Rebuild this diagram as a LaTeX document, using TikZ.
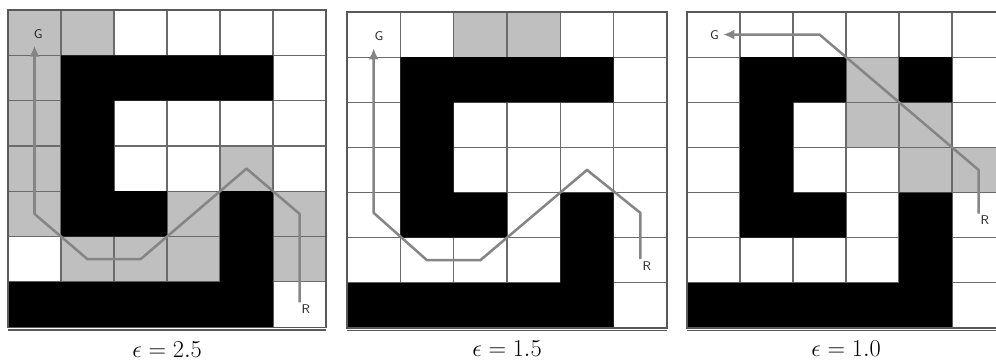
\documentclass[tikz,border=0pt]{standalone}
\usepackage{amsmath}
\usetikzlibrary{arrows.meta}

\begin{document}
\begin{tikzpicture}[
  x=0.025cm, y=-0.025cm,
  cell/.style={fill=black!25},
  wall/.style={fill=black},
  gridln/.style={draw=black!58, line width=0.85pt},
  frame/.style={draw=black!65, line width=0.9pt},
  route/.style={draw=black!48, line width=1.8pt, line join=round,
                -{Latex[length=8pt, width=7pt]}},
  lbl/.style={font=\sffamily\small, inner sep=0pt, text=black!85},
  captxt/.style={font=\fontsize{16}{19}\selectfont}
]
\useasboundingbox (0,0) rectangle (996,361);
\clip (0,0) rectangle (996,361);

\begin{scope}[shift={(8,10)}, x=1.325cm, y=-1.1325cm]
  \foreach \c/\r in {0/0,1/0,0/1,0/2,0/3,4/3,0/4,3/4,5/4,1/5,2/5,3/5,5/5}
    \fill[cell] (\c,\r) rectangle ++(1,1);
  \foreach \i in {1,...,5} \draw[gridln] (\i,0) -- (\i,7);
  \foreach \j in {1,...,6} \draw[gridln] (0,\j) -- (6,\j);
  \fill[wall] (1,1) rectangle (5,2) (1,2) rectangle (2,4) (1,4) rectangle (3,5)
              (4,4) rectangle (5,6) (0,6) rectangle (5,7);
  \draw[frame] (0,0) rectangle (6,7);
  \draw[frame] (0,7.06) -- (6,7.06);
  \coordinate (s1) at (5.5,6.45);
  \coordinate (g1) at (0.5,0.78);
  \node[lbl] (G1) at (0.57,0.53) {G};
  \node[lbl] (R1) at (5.62,6.6) {R};
  \draw[route] (s1) -- (5.5,4.5) -- (4.5,3.5) -- (2.5,5.5) -- (1.5,5.5) -- (0.5,4.5) -- (g1);
  \node[captxt] (cap1) at (3,7.5) {$\epsilon = 2.5$};
\end{scope}

\begin{scope}[shift={(347,12)}, x=1.333cm, y=-1.128cm]
  \foreach \c/\r in {2/0,3/0}
    \fill[cell] (\c,\r) rectangle ++(1,1);
  \foreach \i in {1,...,5} \draw[gridln] (\i,0) -- (\i,7);
  \foreach \j in {1,...,6} \draw[gridln] (0,\j) -- (6,\j);
  \fill[wall] (1,1) rectangle (5,2) (1,2) rectangle (2,4) (1,4) rectangle (3,5)
              (4,4) rectangle (5,6) (0,6) rectangle (5,7);
  \draw[frame] (0,0) rectangle (6,7);
  \draw[frame] (0,7.06) -- (6,7.06);
  \coordinate (s2) at (5.5,5.47);
  \coordinate (g2) at (0.5,0.8);
  \node[lbl] (G2) at (0.6,0.53) {G};
  \node[lbl] (R2) at (5.62,5.62) {R};
  \draw[route] (s2) -- (5.5,4.45) -- (4.5,3.5) -- (2.5,5.5) -- (1.5,5.5) -- (0.5,4.45) -- (g2);
  \node[captxt] (cap2) at (3,7.45) {$\epsilon = 1.5$};
\end{scope}

\begin{scope}[shift={(687,12)}, x=1.325cm, y=-1.128cm]
  \foreach \c/\r in {3/1,3/2,4/2,4/3,5/3}
    \fill[cell] (\c,\r) rectangle ++(1,1);
  \foreach \i in {1,...,5} \draw[gridln] (\i,0) -- (\i,7);
  \foreach \j in {1,...,6} \draw[gridln] (0,\j) -- (6,\j);
  \fill[wall] (1,1) rectangle (3,2) (4,1) rectangle (5,2) (1,2) rectangle (2,4)
              (1,4) rectangle (3,5) (4,4) rectangle (5,6) (0,6) rectangle (5,7);
  \draw[frame] (0,0) rectangle (6,7);
  \draw[frame] (0,7.06) -- (6,7.06);
  \coordinate (s3) at (5.5,4.47);
  \coordinate (g3) at (0.68,0.5);
  \node[lbl] (G3) at (0.52,0.52) {G};
  \node[lbl] (R3) at (5.62,4.62) {R};
  \draw[route] (s3) -- (5.5,3.5) -- (2.5,0.5) -- (g3);
  \node[captxt] (cap3) at (3,7.45) {$\epsilon = 1.0$};
\end{scope}
\end{tikzpicture}
\end{document}
